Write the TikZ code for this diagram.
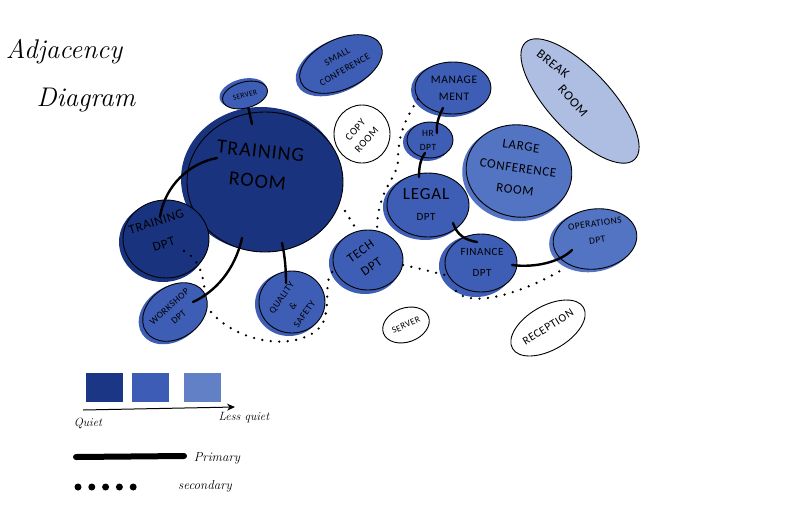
\documentclass[tikz,border=0pt]{standalone}
\usepackage{fontspec}
\newfontfamily\hand[LetterSpace=5]{Carlito}
\usetikzlibrary{shapes.geometric,arrows.meta}
\definecolor{cA}{HTML}{19337F}
\definecolor{cB}{HTML}{3E5EB6}
\definecolor{cC}{HTML}{5373C3}
\definecolor{cBr}{HTML}{AEBDE2}
\definecolor{lA}{HTML}{1A3684}
\definecolor{lB}{HTML}{3C5CB5}
\definecolor{lC}{HTML}{6180C5}
\begin{document}
\begin{tikzpicture}[x=1pt,y=-1pt,
  blob/.style={ellipse, draw=black, line width=0.9pt, inner sep=0pt},
  bgb/.style={ellipse, draw=none, inner sep=0pt},
  lbl/.style={font=\hand, align=center, inner sep=0pt, text=black},
  prim/.style={line width=2.4pt, line cap=round},
  sec/.style={line width=2.6pt, line cap=round, dash pattern=on 0pt off 8.5pt},
  sq/.style={minimum width=37pt, minimum height=29pt, inner sep=0pt, draw=none},
  ttl/.style={font=\itshape\fontsize{27}{27}\selectfont, inner sep=0pt},
  leg/.style={font=\itshape\fontsize{12}{12}\selectfont, inner sep=0pt},
]
\useasboundingbox (0,0) rectangle (787,517);
\fill[white] (0,0) rectangle (787,517);

% ---------- title ----------
\node[ttl] (t1) at (64,52) {Adjacency};
\node[ttl] (t2) at (86,100) {Diagram};

% ---------- rooms: background washes ----------
\node[bgb, fill=cA, minimum width=160pt, minimum height=144pt] (trbg) at (261,179) {};
\node[bgb, fill=cB, minimum width=48pt, minimum height=28pt, rotate=15] (srv1bg) at (243,93) {};
\node[bgb, fill=cA, minimum width=88pt, minimum height=80pt] (tdbg) at (163,242) {};
\node[bgb, fill=cB, minimum width=72pt, minimum height=54pt, rotate=35] (wsbg) at (172,314) {};
\node[bgb, fill=cB, minimum width=68pt, minimum height=64pt] (qsbg) at (289,304) {};
\node[bgb, fill=cB, minimum width=72pt, minimum height=62pt] (techbg) at (365,263) {};
\node[bgb, fill=cB, minimum width=90pt, minimum height=52pt, rotate=25] (scbg) at (338,66) {};
\node[bgb, fill=cB, minimum width=78pt, minimum height=54pt] (mgbg) at (450,90) {};
\node[bgb, fill=cB, minimum width=48pt, minimum height=38pt] (hrbg) at (427,142) {};
\node[bgb, fill=cB, minimum width=84pt, minimum height=66pt] (lgbg) at (425,207) {};
\node[bgb, fill=cC, minimum width=108pt, minimum height=94pt, rotate=-10] (lcbg) at (516,174) {};
\node[bgb, fill=cB, minimum width=74pt, minimum height=62pt] (fnbg) at (476,266) {};
\node[bgb, fill=cC, minimum width=86pt, minimum height=62pt, rotate=8] (opbg) at (592,241) {};

% ---------- rooms: outlines ----------
\node[blob, fill=cA, minimum width=156pt, minimum height=140pt] (tr) at (265,182) {};
\node[blob, fill=cB, minimum width=46pt, minimum height=26pt, rotate=15] (srv1) at (245,95) {};
\node[blob, fill=cA, minimum width=86pt, minimum height=78pt] (td) at (166,239) {};
\node[blob, fill=cB, minimum width=70pt, minimum height=52pt, rotate=35] (ws) at (175,312) {};
\node[blob, fill=cB, minimum width=66pt, minimum height=62pt] (qs) at (292,302) {};
\node[blob, fill=cB, minimum width=70pt, minimum height=60pt] (tech) at (368,260) {};
\node[blob, fill=cB, minimum width=88pt, minimum height=50pt, rotate=25] (sc) at (341,64) {};
\node[blob, fill=white, minimum width=56pt, minimum height=58pt] (copy) at (362,134) {};
\node[blob, fill=cB, minimum width=76pt, minimum height=52pt] (mg) at (453,88) {};
\node[blob, fill=cB, minimum width=46pt, minimum height=36pt] (hr) at (430,140) {};
\node[blob, fill=cB, minimum width=82pt, minimum height=64pt] (lg) at (428,205) {};
\node[blob, fill=cC, minimum width=106pt, minimum height=92pt, rotate=-10] (lc) at (519,171) {};
\node[blob, fill=cBr, minimum width=160pt, minimum height=62pt, rotate=-47] (br) at (580,101) {};
\node[blob, fill=cB, minimum width=72pt, minimum height=58pt] (fn) at (481,263) {};
\node[blob, fill=cC, minimum width=84pt, minimum height=60pt, rotate=8] (op) at (595,239) {};
\node[blob, fill=white, minimum width=48pt, minimum height=34pt, rotate=20] (srv2) at (406,325) {};
\node[blob, fill=white, minimum width=82pt, minimum height=44pt, rotate=30] (rec) at (548,328) {};

% ---------- labels ----------
\node[lbl, rotate=-6, font=\hand\fontsize{20}{30}\selectfont] (trL) at (259,166) {TRAINING\\ROOM};
\node[lbl, rotate=15, font=\hand\fontsize{7.5}{8}\selectfont] (srv1L) at (245,95) {SERVER};
\node[lbl, rotate=18, font=\hand\fontsize{13}{24}\selectfont] (tdL) at (160,233) {TRAINING\\DPT};
\node[lbl, rotate=42, font=\hand\fontsize{9.5}{14}\selectfont] (wsL) at (174,312) {WORKSHOP\\DPT};
\node[lbl, rotate=55, font=\hand\fontsize{9.5}{14}\selectfont] (qsL) at (293,306) {QUALITY\\\&\\SAFETY};
\node[lbl, rotate=35, font=\hand\fontsize{13}{19}\selectfont] (techL) at (366,259) {TECH\\DPT};
\node[lbl, rotate=30, font=\hand\fontsize{9.5}{15}\selectfont] (scL) at (341,63) {SMALL\\CONFERENCE};
\node[lbl, rotate=48, font=\hand\fontsize{10.5}{15}\selectfont] (copyL) at (361,135) {COPY\\ROOM};
\node[lbl, font=\hand\fontsize{11.5}{17}\selectfont] (mgL) at (454,88) {MANAGE\\MENT};
\node[lbl, font=\hand\fontsize{9.5}{14}\selectfont] (hrL) at (428,140) {HR\\DPT};
\node[lbl, font=\hand\fontsize{11}{21}\selectfont] (lgL) at (426,204) {{\fontsize{17}{19}\selectfont LEGAL}\\DPT};
\node[lbl, rotate=-8, font=\hand\fontsize{13}{22}\selectfont] (lcL) at (518,168) {LARGE\\CONFERENCE\\ROOM};
\node[lbl, rotate=-38, font=\hand\fontsize{13}{14}\selectfont] (brL1) at (553,64) {BREAK};
\node[lbl, rotate=-48, font=\hand\fontsize{13}{14}\selectfont] (brL2) at (573,101) {ROOM};
\node[lbl, font=\hand\fontsize{11}{21}\selectfont] (fnL) at (482,262) {FINANCE\\DPT};
\node[lbl, rotate=8, font=\hand\fontsize{9.5}{17}\selectfont] (opL) at (596,232) {OPERATIONS\\DPT};
\node[lbl, rotate=25, font=\hand\fontsize{9}{10}\selectfont] (srv2L) at (406,325) {SERVER};
\node[lbl, rotate=32, font=\hand\fontsize{11.5}{12}\selectfont] (recL) at (548,327) {RECEPTION};

% ---------- connector end points inside rooms ----------
\coordinate (trA) at (252,124);
\coordinate (trB) at (217,158);
\coordinate (trC) at (242,238);
\coordinate (trD) at (282,243);
\coordinate (trE) at (345,211);
\coordinate (tdA) at (160,217);
\coordinate (tdB) at (184,251);
\coordinate (wsA) at (193,302);
\coordinate (wsB) at (205,300);
\coordinate (wsC) at (211,312);
\coordinate (qsA) at (286,283);
\coordinate (mgA) at (443,108);
\coordinate (mgB) at (418,99);
\coordinate (hrA) at (437,133);
\coordinate (hrB) at (425,153);
\coordinate (lgA) at (419,177);
\coordinate (lgB) at (453,223);
\coordinate (fnA) at (477,242);
\coordinate (fnB) at (512,265);
\coordinate (fnC) at (445,275);
\coordinate (fnD) at (456,291);
\coordinate (opA) at (572,250);
\coordinate (opB) at (565,268);
\coordinate (techA) at (334,270);
\coordinate (techB) at (358,232);
\coordinate (techC) at (377,228);
\coordinate (techD) at (403,265);

% ---------- primary connectors ----------
\draw[prim] (srv1.south) -- (trA);
\draw[prim] (trB) .. controls (190,163) and (165,185) .. (tdA);
\draw[prim] (trC) .. controls (235,270) and (215,292) .. (wsA);
\draw[prim] (trD) .. controls (285,256) and (286,270) .. (qsA);
\draw[prim] (mgA) .. controls (438,118) and (436,125) .. (hrA);
\draw[prim] (hrB) .. controls (420,160) and (419,168) .. (lgA);
\draw[prim] (lgB) .. controls (457,235) and (465,240) .. (fnA);
\draw[prim] (fnB) .. controls (535,268) and (560,262) .. (opA);

% ---------- secondary connectors ----------
\draw[sec] (tdB) .. controls (198,258) and (205,275) .. (wsB);
\draw[sec] (wsC) .. controls (240,345) and (300,352) .. (322,325) .. controls (332,305) and (322,280) .. (techA);
\draw[sec] (trE) -- (techB);
\draw[sec] (mgB) .. controls (405,120) and (398,135) .. (398,160) .. controls (398,178) and (378,188) .. (techC);
\draw[sec] (techD) .. controls (418,268) and (432,272) .. (fnC);
\draw[sec] (fnD) .. controls (470,308) and (520,295) .. (opB);

% ---------- legend ----------
\node[sq, fill=lA] (sq1) at (104.5,387.5) {};
\node[sq, fill=lB] (sq2) at (150.5,387.5) {};
\node[sq, fill=lC] (sq3) at (202,387.5) {};
\coordinate (qa) at (83,410);
\coordinate (qb) at (235,407);
\draw[line width=1pt, -{Stealth[length=8pt,width=7pt]}] (qa) -- (qb);
\node[leg] (q1) at (88,423) {Quiet};
\node[leg] (q2) at (244,418) {Less quiet};
\coordinate (pa) at (76,457);
\coordinate (pb) at (184,456);
\draw[line width=6pt, line cap=round] (pa) -- (pb);
\node[leg, font=\itshape\fontsize{13}{13}\selectfont] (pL) at (217,458) {Primary};
\coordinate (sa) at (78,487);
\coordinate (sb) at (134,487);
\draw[line width=7pt, line cap=round, dash pattern=on 0pt off 13.8pt] (sa) -- (sb);
\node[leg, font=\itshape\fontsize{13}{13}\selectfont] (sL) at (205,486) {secondary};
\end{tikzpicture}
\end{document}
